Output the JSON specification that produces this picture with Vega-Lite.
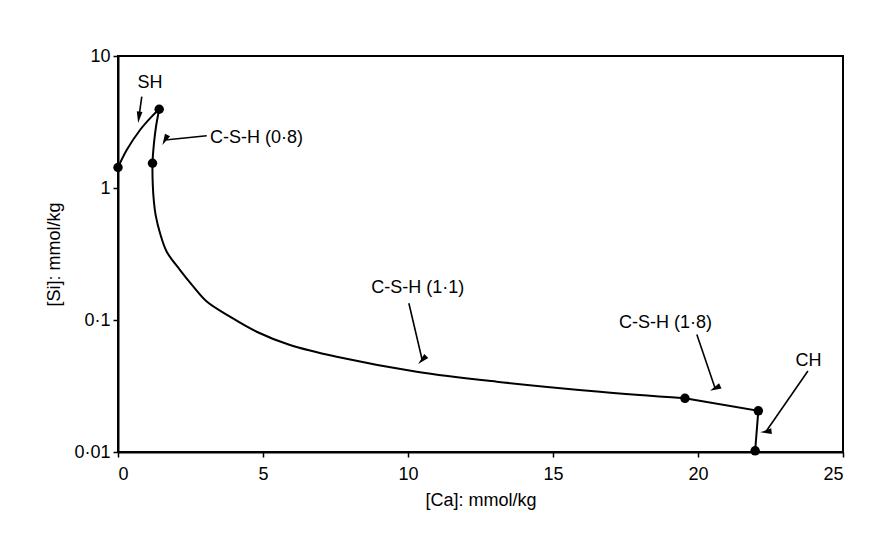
{
  "$schema": "https://vega.github.io/schema/vega-lite/v6.json",
  "width": 725,
  "height": 396,
  "autosize": "none",
  "padding": {"left": 118, "top": 56, "right": 51, "bottom": 100},
  "background": "white",
  "config": {
    "view": {"stroke": "black", "strokeWidth": 2},
    "font": "Liberation Sans",
    "axis": {
      "domainColor": "black", "domainWidth": 2, "tickColor": "black", "tickWidth": 1.5,
      "grid": false, "labelFont": "Liberation Sans", "labelFontSize": 18, "labelColor": "black",
      "titleFont": "Liberation Sans", "titleFontSize": 18, "titleFontWeight": "normal", "titleColor": "black"
    }
  },
  "datasets": {
    "curve": [
      {"seg": "SH", "i": 1, "ca": 0, "si": 1.43},
      {"seg": "SH", "i": 2, "ca": 0.3, "si": 1.94},
      {"seg": "SH", "i": 3, "ca": 0.76, "si": 2.75},
      {"seg": "SH", "i": 4, "ca": 1.16, "si": 3.47},
      {"seg": "SH", "i": 5, "ca": 1.42, "si": 3.95},
      {"seg": "CSH", "i": 6, "ca": 1.42, "si": 3.95},
      {"seg": "CSH", "i": 7, "ca": 1.31, "si": 2.91},
      {"seg": "CSH", "i": 8, "ca": 1.24, "si": 2.18},
      {"seg": "CSH", "i": 9, "ca": 1.19, "si": 1.54},
      {"seg": "CSH", "i": 10, "ca": 1.2, "si": 1.05},
      {"seg": "CSH", "i": 11, "ca": 1.24, "si": 0.78},
      {"seg": "CSH", "i": 12, "ca": 1.3, "si": 0.62},
      {"seg": "CSH", "i": 13, "ca": 1.45, "si": 0.454},
      {"seg": "CSH", "i": 14, "ca": 1.68, "si": 0.329},
      {"seg": "CSH", "i": 15, "ca": 2.14, "si": 0.239},
      {"seg": "CSH", "i": 16, "ca": 2.6, "si": 0.179},
      {"seg": "CSH", "i": 17, "ca": 3.06, "si": 0.138},
      {"seg": "CSH", "i": 18, "ca": 3.86, "si": 0.106},
      {"seg": "CSH", "i": 19, "ca": 4.78, "si": 0.0815},
      {"seg": "CSH", "i": 20, "ca": 5.93, "si": 0.0647},
      {"seg": "CSH", "i": 21, "ca": 7.54, "si": 0.0527},
      {"seg": "CSH", "i": 22, "ca": 10.3, "si": 0.0406},
      {"seg": "CSH", "i": 23, "ca": 13.06, "si": 0.0341},
      {"seg": "CSH", "i": 24, "ca": 16.62, "si": 0.0286},
      {"seg": "CSH", "i": 25, "ca": 19.55, "si": 0.0255}
    ],
    "tail": [
      {"i": 1, "ca": 19.55, "si": 0.0255},
      {"i": 2, "ca": 22.08, "si": 0.0205},
      {"i": 3, "ca": 21.97, "si": 0.0102}
    ],
    "points": [
      {"ca": 0, "si": 1.43},
      {"ca": 1.42, "si": 3.95},
      {"ca": 1.19, "si": 1.54},
      {"ca": 19.55, "si": 0.0255},
      {"ca": 22.08, "si": 0.0205},
      {"ca": 21.97, "si": 0.0102}
    ],
    "labels": [
      {"phase": "SH", "ca": 1.1, "si": 6.2, "pos": "center"},
      {"phase": "C-S-H (0·8)", "ca": 3.17, "si": 2.39, "pos": "left"},
      {"phase": "C-S-H (1·1)", "ca": 10.34, "si": 0.174, "pos": "center"},
      {"phase": "C-S-H (1·8)", "ca": 18.88, "si": 0.0944, "pos": "center"},
      {"phase": "CH", "ca": 23.81, "si": 0.0492, "pos": "center"}
    ],
    "arrows": [
      {"phase": "SH", "ca0": 0.82, "si0": 4.92, "ca1": 0.72, "si1": 3.43},
      {"phase": "C-S-H (0·8)", "ca0": 3.06, "si0": 2.49, "ca1": 1.62, "si1": 2.31},
      {"phase": "C-S-H (1·1)", "ca0": 10.03, "si0": 0.134, "ca1": 10.49, "si1": 0.0498},
      {"phase": "C-S-H (1·8)", "ca0": 19.96, "si0": 0.0776, "ca1": 20.59, "si1": 0.0304},
      {"phase": "CH", "ca0": 23.79, "si0": 0.0411, "ca1": 22.34, "si1": 0.01425}
    ]
  },
  "layer": [
    {
      "data": {"name": "curve"},
      "mark": {"type": "line", "color": "black", "strokeWidth": 2, "interpolate": "catmull-rom"},
      "encoding": {
        "x": {"field": "ca", "type": "quantitative", "scale": {"domain": [0, 25], "nice": false},
          "axis": {"values": [0, 5, 10, 15, 20, 25], "title": "[Ca]: mmol/kg", "tickSize": 5, "labelPadding": 8, "titlePadding": 8}},
        "y": {"field": "si", "type": "quantitative", "scale": {"type": "log", "domain": [0.01, 10], "nice": false},
          "axis": {"values": [0.01, 0.1, 1, 10], "title": "[Si]: mmol/kg", "tickSize": 5, "labelPadding": 3, "titlePadding": 10,
            "labelExpr": "replace(toString(datum.value), '.', '·')"}},
        "detail": {"field": "seg", "type": "nominal"},
        "order": {"field": "i", "type": "quantitative"}
      }
    },
    {
      "data": {"name": "tail"},
      "mark": {"type": "line", "color": "black", "strokeWidth": 2},
      "encoding": {
        "x": {"field": "ca", "type": "quantitative"},
        "y": {"field": "si", "type": "quantitative"},
        "order": {"field": "i", "type": "quantitative"}
      }
    },
    {
      "data": {"name": "points"},
      "mark": {"type": "point", "filled": true, "color": "black", "opacity": 1, "size": 90},
      "encoding": {
        "x": {"field": "ca", "type": "quantitative"},
        "y": {"field": "si", "type": "quantitative"}
      }
    },
    {
      "data": {"name": "arrows"},
      "mark": {"type": "rule", "color": "black", "strokeWidth": 1.6},
      "encoding": {
        "x": {"field": "ca0", "type": "quantitative"},
        "y": {"field": "si0", "type": "quantitative"},
        "x2": {"field": "ca1"},
        "y2": {"field": "si1"}
      }
    },
    {
      "data": {"name": "arrows"},
      "mark": {"type": "point", "filled": true, "color": "black", "opacity": 1, "size": 130, "shape": "M0,-1L0.5,1L-0.5,1Z"},
      "encoding": {
        "x": {"field": "ca1", "type": "quantitative"},
        "y": {"field": "si1", "type": "quantitative"},
        "angle": {"field": "phase", "type": "nominal",
          "scale": {"domain": ["SH", "C-S-H (0·8)", "C-S-H (1·1)", "C-S-H (1·8)", "CH"], "range": [187.5, 264, 166.8, 161.2, 214.7]}, "legend": null}
      }
    },
    {
      "data": {"name": "labels"},
      "transform": [{"filter": "datum.pos == 'center'"}],
      "mark": {"type": "text", "fontSize": 18, "color": "black", "align": "center", "baseline": "middle"},
      "encoding": {
        "x": {"field": "ca", "type": "quantitative"},
        "y": {"field": "si", "type": "quantitative"},
        "text": {"field": "phase"}
      }
    },
    {
      "data": {"name": "labels"},
      "transform": [{"filter": "datum.pos == 'left'"}],
      "mark": {"type": "text", "fontSize": 18, "color": "black", "align": "left", "baseline": "middle"},
      "encoding": {
        "x": {"field": "ca", "type": "quantitative"},
        "y": {"field": "si", "type": "quantitative"},
        "text": {"field": "phase"}
      }
    }
  ]
}
